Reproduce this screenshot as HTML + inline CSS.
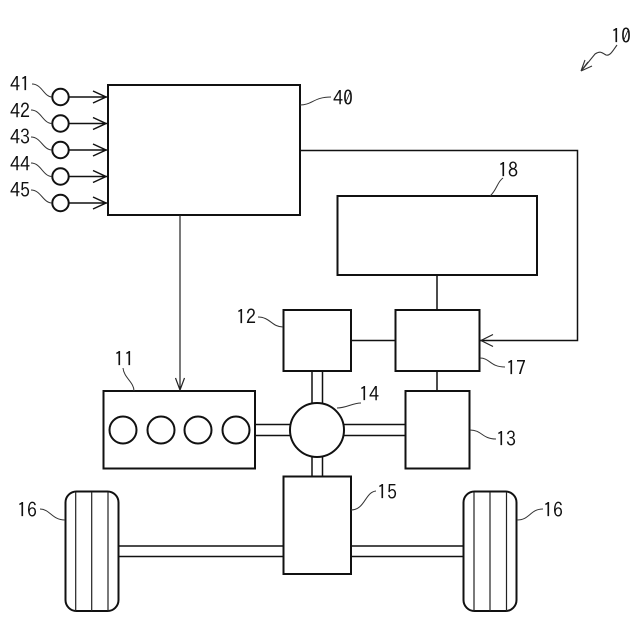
<!DOCTYPE html>
<html>
<head>
<meta charset="utf-8">
<style>
html,body{margin:0;padding:0;background:#fff;width:640px;height:640px;overflow:hidden}
svg{display:block}
text{font-family:"IPAGothic","Liberation Sans",sans-serif;font-size:20px;fill:#111}
.b{fill:#fff;stroke:#111;stroke-width:2}
.m{fill:none;stroke:#111;stroke-width:1.5}
.t{fill:none;stroke:#222;stroke-width:1.200}
.l{fill:none;stroke:#333;stroke-width:1}
</style>
</head>
<body>
<svg width="640" height="640" viewBox="0 0 640 640" xmlns="http://www.w3.org/2000/svg">
<!-- shafts -->
<path class="m" d="M255 424.500H291M255 435.500H291M343 424.500H406M343 435.500H406M312 371V404M322.500 371V404M312 456V477M322.500 456V477M118 546H284M118 556.500H284M351 546H464M351 556.500H464"/>
<!-- boxes -->
<rect class="b" x="108" y="85" width="192" height="130"/>
<rect class="b" x="337.500" y="196" width="199.500" height="79"/>
<rect class="b" x="283.500" y="310" width="67.500" height="61"/>
<rect class="b" x="395.500" y="310" width="84" height="61"/>
<rect class="b" x="405.500" y="391" width="64" height="77.500"/>
<rect class="b" x="103.500" y="391" width="151.500" height="77.500"/>
<rect class="b" x="283.500" y="476.500" width="67.500" height="97.500"/>
<circle class="b" cx="317" cy="430" r="27"/>
<circle class="b" cx="123" cy="430" r="13.500"/>
<circle class="b" cx="161" cy="430" r="13.500"/>
<circle class="b" cx="198" cy="430" r="13.500"/>
<circle class="b" cx="236" cy="430" r="13.500"/>
<!-- wheels -->
<rect class="b" x="65.500" y="491.500" width="53" height="119.500" rx="11"/>
<path class="t" d="M75.700 492V611M91.700 492V611M108 492V611"/>
<rect class="b" x="463.500" y="491.500" width="53" height="119.500" rx="11"/>
<path class="t" d="M474 492V611M490 492V611M506.500 492V611"/>
<!-- connectors -->
<path class="t" d="M180 215V390M175.500 378L180 390L184.500 378"/>
<path class="m" d="M300 150.500H577.500V340.500H480"/>
<path class="t" d="M493 334.500L481 340.500L493 346.500"/>
<path class="m" d="M437 275V310M351 340.500H395.500M437 371V391"/>
<!-- sensors -->
<g class="m">
<path d="M69 97H107M93 91L106 97L93 103"/>
<path d="M69 123.500H107M93 117.500L106 123.500L93 129.500"/>
<path d="M69 150H107M93 144L106 150L93 156"/>
<path d="M69 176.500H107M93 170.500L106 176.500L93 182.500"/>
<path d="M69 203H107M93 197L106 203L93 209"/>
</g>
<circle class="b" cx="60.500" cy="97" r="8.200"/>
<circle class="b" cx="60.500" cy="123.500" r="8.200"/>
<circle class="b" cx="60.500" cy="150" r="8.200"/>
<circle class="b" cx="60.500" cy="176.500" r="8.200"/>
<circle class="b" cx="60.500" cy="203" r="8.200"/>
<!-- leaders -->
<g class="l">
<path d="M32 84C42 84 44 97 52 97"/>
<path d="M31 110C41 110 43 123.500 52 123.500"/>
<path d="M31 137C41 137 43 150 52 150"/>
<path d="M31 163C41 163 43 176.500 52 176.500"/>
<path d="M31 190C41 190 43 203 52 203"/>
<path d="M300 105C312 105 314 97 331 97"/>
<path d="M490 196C497 190 497 182 503 178"/>
<path d="M258 317C270 317 272 327 283 327"/>
<path d="M123 368C124 378 134 382 134 391"/>
<path d="M337 408C347 408 352 403 361 403"/>
<path d="M480 358C490 358 490 367 505 367"/>
<path d="M470 430C482 430 482 439 496 439"/>
<path d="M351 510C365 510 365 492 376 491"/>
<path d="M40 509C50 509 52 520 65 520"/>
<path d="M517 520C530 520 530 509 543 509"/>
</g>
<!-- ref arrow 10 -->
<path d="M617 45C612 52 610 56 606 55C601 52 600 51 595 54L582 70" fill="none" stroke="#333" stroke-width="1.100"/>
<path d="M581 71L585 60M581 71L592 66M581 71L588 62" fill="none" stroke="#333" stroke-width="1.100"/>
<!-- labels -->
<text x="10" y="91">41</text>
<text x="10" y="118">42</text>
<text x="10" y="144">43</text>
<text x="10" y="171">44</text>
<text x="10" y="197">45</text>
<text x="333" y="105">40</text>
<text x="611" y="43">10</text>
<text x="498" y="177">18</text>
<text x="236" y="324">12</text>
<text x="114" y="366">11</text>
<text x="359" y="401">14</text>
<text x="506" y="375">17</text>
<text x="496" y="446">13</text>
<text x="377" y="499">15</text>
<text x="17" y="517">16</text>
<text x="543" y="517">16</text>
</svg>
</body>
</html>
